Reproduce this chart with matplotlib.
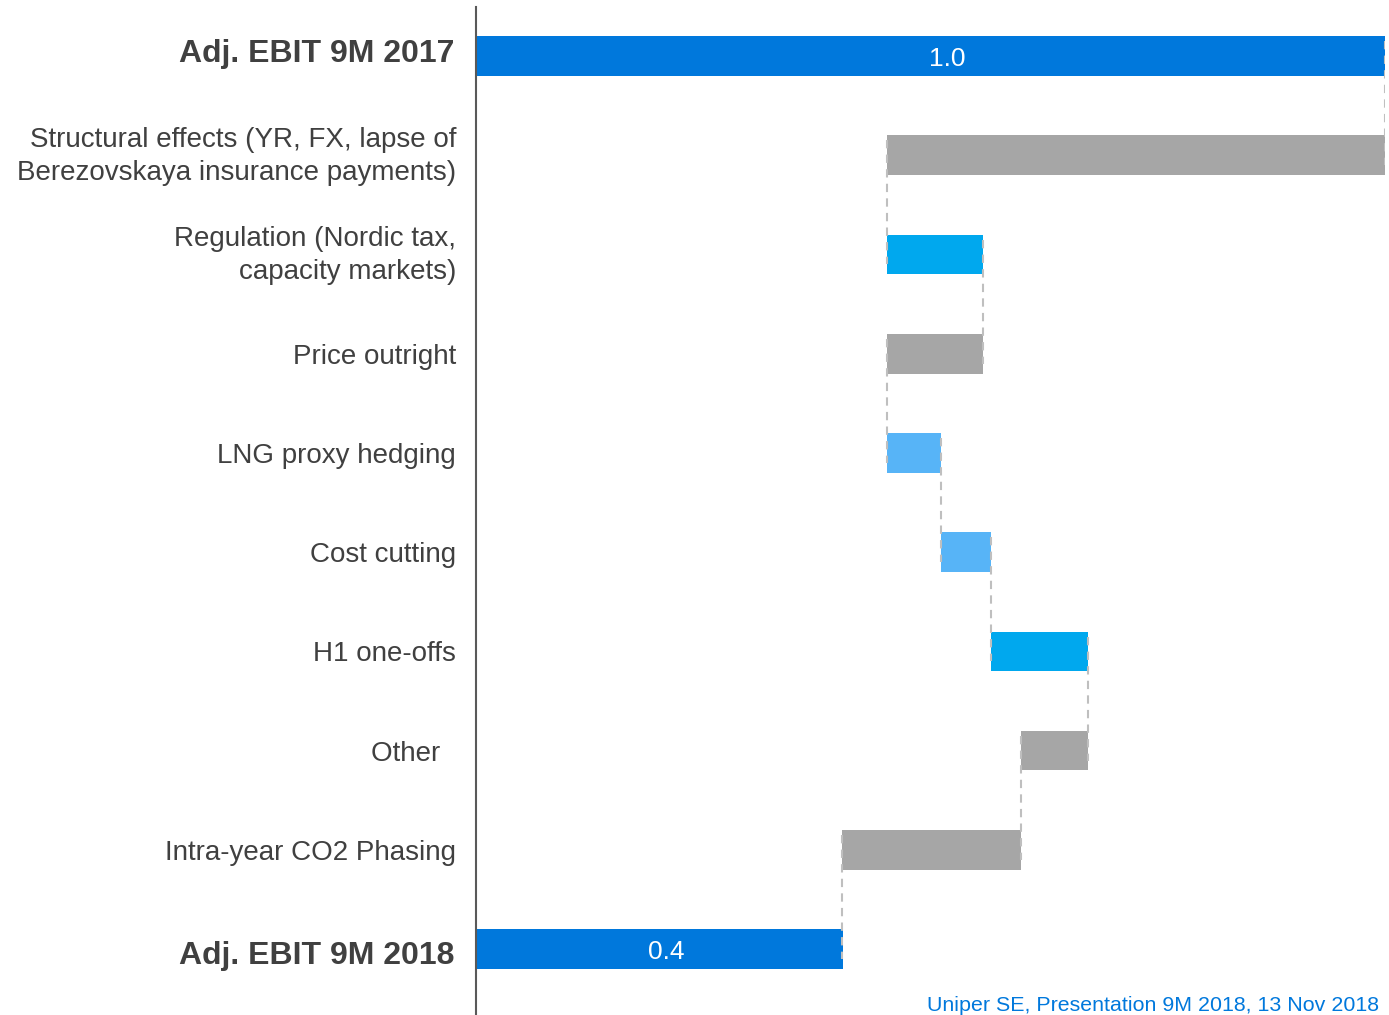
import matplotlib.pyplot as plt

plt.rcParams['font.family'] = ['Liberation Sans', 'DejaVu Sans']

categories = ["Adj. EBIT 9M 2017",
              "Structural effects (YR, FX, lapse of\nBerezovskaya insurance payments)",
              "Regulation (Nordic tax,\ncapacity markets)",
              "Price outright",
              "LNG proxy hedging",
              "Cost cutting",
              "H1 one-offs",
              "Other  ",
              "Intra-year CO2 Phasing",
              "Adj. EBIT 9M 2018"]
# totals at start and end, deltas in between
start_total = 1.0
deltas = [-0.548, 0.106, -0.106, 0.059, 0.056, 0.106, -0.073, -0.197]
end_total = 0.404
bar_labels = ["1.0", "0.4"]

colors = ["#0078DC", "#A6A6A6", "#00A8EE", "#A6A6A6", "#57B4F7",
          "#57B4F7", "#00A8EE", "#A6A6A6", "#A6A6A6", "#0078DC"]

fig = plt.figure(figsize=(13.89, 10.15), dpi=100)
ax = fig.add_axes([0.3427, 0.0, 0.6545, 0.993])

lefts = [0.0]
widths = [start_total]
running = start_total
levels = [running]
for d in deltas:
    new = running + d
    lefts.append(min(running, new))
    widths.append(abs(d))
    running = new
    levels.append(running)
lefts.append(0.0)
widths.append(end_total)

ys = list(range(len(categories)))
ax.barh(ys, widths, left=lefts, height=0.4, color=colors, zorder=2)

# dashed connectors
for i, lvl in enumerate(levels):
    ax.plot([lvl, lvl], [ys[i] - 0.15, ys[i + 1] + 0.1], ls=(0, (4, 3)),
            color="#BFBFBF", lw=1.5, zorder=3)

ax.text(start_total / 2 + 0.018, 0.0, bar_labels[0], color="white", fontsize=19,
        ha="center", va="center_baseline", zorder=4)
ax.text(end_total / 2 + 0.007, 9.0, bar_labels[1], color="white", fontsize=19,
        ha="center", va="center_baseline", zorder=4)

# category labels
tr = ax.get_yaxis_transform()
for i, lab in enumerate(categories):
    if i == 0:
        ax.text(-0.024, ys[i] - 0.06, lab, transform=tr, ha="right",
                va="center_baseline", fontsize=23, fontweight="bold", color="#404040")
    elif i == 9:
        ax.text(-0.024, ys[i] + 0.04, lab, transform=tr, ha="right",
                va="center_baseline", fontsize=23, fontweight="bold", color="#404040")
    else:
        dy = -0.055 if "\n" in lab else 0.0
        ax.text(-0.022, ys[i] + dy, lab, transform=tr, ha="right", va="center_baseline",
                fontsize=20, color="#404040", linespacing=1.35)

ax.set_xlim(0, 1.0)
ax.set_ylim(9.665, -0.494)
ax.set_yticks([])
ax.set_xticks([])
for s in ("top", "right", "bottom"):
    ax.spines[s].set_visible(False)
ax.spines["left"].set_color("#595959")
ax.spines["left"].set_linewidth(1.5)

fig.text(0.993, 0.0, "Uniper SE, Presentation 9M 2018, 13 Nov 2018",
         color="#0078DC", fontsize=15.4, ha="right", va="bottom")

fig.savefig("out.png", dpi=100)
